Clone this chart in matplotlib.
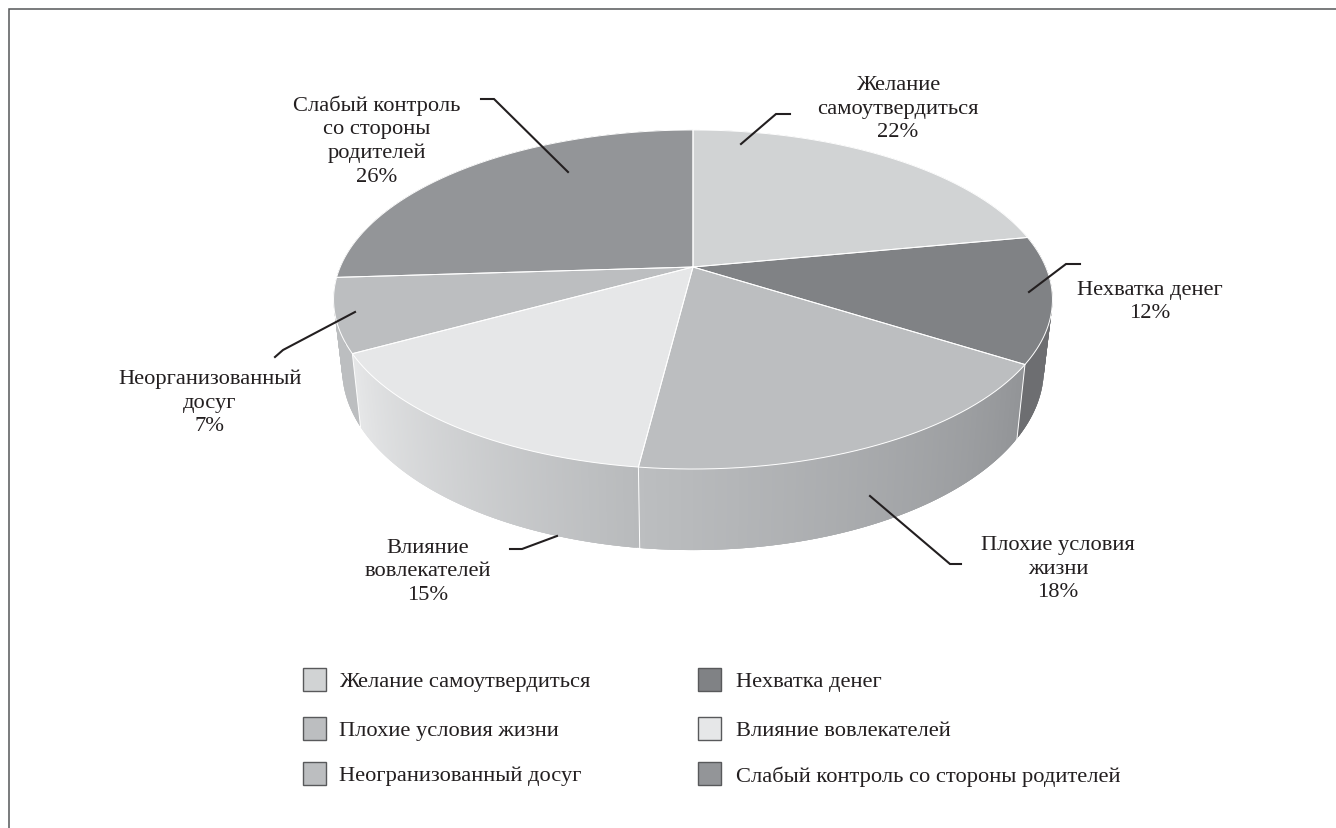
import numpy as np
import matplotlib
matplotlib.use("Agg")
import matplotlib.pyplot as plt
from matplotlib.colors import to_rgb
from matplotlib.patches import Rectangle

plt.rcParams['font.family'] = ['Liberation Serif', 'DejaVu Serif']

# ---- data ----
categories = ["Желание самоутвердиться", "Нехватка денег", "Плохие условия жизни",
              "Влияние вовлекателей", "Неогранизованный досуг",
              "Слабый контроль со стороны родителей"]
values = [22, 12, 18, 15, 7, 26]
callout_names = ["Желание\nсамоутвердиться", "Нехватка денег", "Плохие условия\nжизни",
                 "Влияние\nвовлекателей", "Неорганизованный\nдосуг",
                 "Слабый контроль\nсо стороны\nродителей"]

# ---- styles ----
top_colors = ["#d1d3d4", "#808285", "#bcbec0", "#e6e7e8", "#bcbec0", "#939598"]
wall_start = ["#d1d3d4", "#6d6e71", "#929497", "#b8babc", "#bcbec0", "#939598"]
wall_end = ["#d1d3d4", "#6d6e71", "#bcbec0", "#e6e7e8", "#bcbec0", "#939598"]
callout_text_xy = [(898, 109), (1150, 302), (1058, 569), (428, 572), (210, 403), (377, 141)]
callout_lines = [
    [(741, 145), (776, 115), (790, 115)],
    [(1029, 293), (1066, 265), (1080, 265)],
    [(870, 497), (950, 565), (961, 565)],
    [(557, 537), (522, 550), (510, 550)],
    [(355, 313), (283, 351), (275, 358)],
    [(568, 173), (494, 100), (481, 100)],
]
legend_rows = [680, 729, 774]
legend_cols = [(303, 339), (698, 736)]
FS = 16.2

# pie geometry (perspective projection of a circle)
CX, CY = 693.0, 268.0
K, B, A = 0.1917, 163.3, 352.8
LOW_X, LOW_Y, LOW_D = 0.976, 1.068, 67.3


def top_xy(theta):
    u, v = np.sin(theta), np.cos(theta)
    w = 1 + K * v
    return CX + A * u / w, CY - B * v / w


def low_xy(theta):
    x, y = top_xy(theta)
    return CX + (x - CX) * LOW_X, CY + (y - CY) * LOW_Y + LOW_D


fig = plt.figure(figsize=(13.36, 8.29), dpi=100)
ax = fig.add_axes([0, 0, 1, 1])
ax.set_xlim(0, 1336)
ax.set_ylim(829, 0)
ax.axis('off')

# frame: top and left rules only
ax.plot([8.5, 8.5, 1336], [829, 9.5, 9.5], color="#555759", lw=1.1, solid_joinstyle='miter', zorder=1)

edges = 2 * np.pi * np.concatenate([[0], np.cumsum(values)]) / sum(values)

# side wall, drawn as overlapping thin strips so that it can carry a gradient
for i in range(len(values)):
    n = 161
    t = np.linspace(edges[i], edges[i + 1], n)
    c0, c1 = np.array(to_rgb(wall_start[i])), np.array(to_rgb(wall_end[i]))
    for j in range(n - 1):
        tt = np.array([t[j], t[min(j + 3, n - 1)]])
        xa, ya = top_xy(tt)
        xb, yb = low_xy(tt[::-1])
        col = c0 + (c1 - c0) * j / (n - 2)
        ax.fill(np.r_[xa, xb], np.r_[ya, yb], facecolor=col, edgecolor="none", zorder=2)

# white seams on the wall where slices meet
for i in [2, 3, 4]:
    xa, ya = top_xy(edges[i])
    xb, yb = low_xy(edges[i])
    ax.plot([xa, xb], [ya, yb], color="white", lw=0.7, zorder=3)

# top surface
for i in range(len(values)):
    t = np.linspace(edges[i], edges[i + 1], 200)
    x, y = top_xy(t)
    ax.fill(np.r_[CX, x], np.r_[CY, y], facecolor=top_colors[i], edgecolor="none", zorder=4)
for i in range(len(values)):
    t = np.linspace(edges[i], edges[i + 1], 200)
    x, y = top_xy(t)
    ax.plot(np.r_[CX, x, CX], np.r_[CY, y, CY], color="white", lw=0.7, zorder=5)

# call-outs
for name, val, (tx, ty), pts in zip(callout_names, values, callout_text_xy, callout_lines):
    ax.text(tx, ty, f"{name}\n{val}%", ha='center', va='center', fontsize=FS,
            linespacing=1.32, color="#231f20", zorder=7)
    px, py = zip(*pts)
    ax.plot(px, py, color="#231f20", lw=1.5, solid_joinstyle='miter', zorder=6)

# legend
order = [0, 2, 4, 1, 3, 5]
for n, idx in enumerate(order):
    sx, lx = legend_cols[n // 3]
    ry = legend_rows[n % 3]
    ax.add_patch(Rectangle((sx, ry - 11.5), 23, 23, facecolor=top_colors[idx],
                           edgecolor="#58595b", lw=1.0, zorder=6))
    ax.text(lx, ry + 2.5, categories[idx], ha='left', va='center', fontsize=FS, color="#231f20", zorder=7)

fig.savefig("out.png", dpi=100, facecolor="white")
